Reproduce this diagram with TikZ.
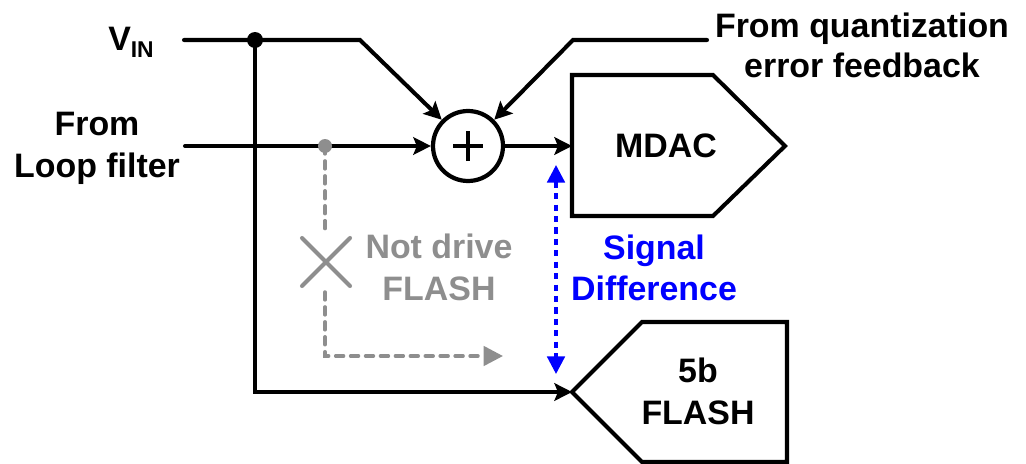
\documentclass[tikz,border=0pt]{standalone}
\usepackage{fontspec}
\setmainfont{Liberation Sans}
\usetikzlibrary{arrows.meta}
\definecolor{dimgray}{HTML}{8E8E8E}
\definecolor{sigblue}{HTML}{0000FF}
\begin{document}
\begin{tikzpicture}[x=0.02cm,y=-0.02cm,
  wire/.style={line width=2.3pt, line cap=round, line join=miter},
  arr/.style={-{Stealth[length=10pt,width=10pt,inset=2pt]}},
  lbl/.style={font=\fontsize{19.3}{23.8}\selectfont\bfseries, align=center, inner sep=0pt},
  graywire/.style={line width=2pt, dimgray, line cap=round, dash pattern=on 4.5pt off 4pt},
  bluewire/.style={line width=1.8pt, sigblue, dash pattern=on 3.5pt off 3pt}]
\useasboundingbox (0,0) rectangle (1026,463);

% labels
\node[lbl, anchor=base] (vin) at (131,50) {V\raisebox{-0.22em}{\fontsize{13}{13}\selectfont IN}};
\node[lbl, anchor=base] (lf1) at (97,135) {From};
\node[lbl, anchor=base] (lf2) at (97,177) {Loop filter};
\node[lbl, anchor=base] (qe1) at (862,37) {From quantization};
\node[lbl, anchor=base] (qe2) at (862,77) {error feedback};

% summer
\node[circle, draw, line width=2.4pt, minimum size=1.4cm, inner sep=0pt] (sum) at (468,146) {};
\draw[line width=2.8pt] ([xshift=-0.3cm]sum.center) -- ([xshift=0.3cm]sum.center)
  ([yshift=-0.3cm]sum.center) -- ([yshift=0.3cm]sum.center);

% MDAC
\draw[wire] (572,75) -- (713,75) -- (785,146) -- (713,216) -- (572,216) -- cycle;
\node[lbl] (mdac) at (666,146) {MDAC};
\coordinate (mdacin) at (572,146);

% FLASH
\draw[wire] (787,470) -- (787,322) -- (642,322) -- (572,392) -- (642,462) -- (787,462);
\node[lbl, anchor=base] (fl1) at (698,382) {5b};
\node[lbl, anchor=base] (fl2) at (698,424) {FLASH};
\coordinate (flashin) at (572,392);

% wires
\coordinate (vinstart) at (184,40);
\node[circle, fill, inner sep=0pt, minimum size=0.32cm] (dot) at (255,40) {};
\coordinate (vinbend) at (360,40);
\coordinate (qestart) at (707,40);
\coordinate (qebend) at (573,40);
\coordinate (lfstart) at (185,146);
\coordinate (corner) at (255,392);

\draw[wire, arr] (vinstart) -- (vinbend) -- (sum.135);
\draw[wire, arr] (qestart) -- (qebend) -- (sum.45);
\draw[wire, arr] (lfstart) -- (sum.west);
\draw[wire, arr] (sum.east) -- (mdacin);
\draw[wire, arr] (dot.center) -- (corner) -- (flashin);

% gray path
\node[circle, fill=dimgray, inner sep=0pt, minimum size=0.28cm] (gdot) at (325,146) {};
\coordinate (gx) at (326,262);
\coordinate (gcorner) at (325,356);
\coordinate (gend) at (503,356);
\draw[graywire] (gdot.center) -- (325,233);
\draw[graywire, -{Triangle[length=11pt,width=11pt]}] (325,292) -- (gcorner) -- (gend);
\draw[line width=2.3pt, dimgray, line cap=round] (302,238) -- (350,286) (350,238) -- (302,286);
\node[lbl, text=dimgray, anchor=base] (nd1) at (439,258) {Not drive};
\node[lbl, text=dimgray, anchor=base] (nd2) at (439,300) {FLASH};

% signal difference
\coordinate (sdtop) at (556,165);
\coordinate (sdbot) at (556,374);
\draw[bluewire, {Triangle[length=10pt,width=10pt]}-{Triangle[length=10pt,width=10pt]}] (sdtop) -- (sdbot);
\node[lbl, text=sigblue, anchor=base] (sd1) at (654,259) {Signal};
\node[lbl, text=sigblue, anchor=base] (sd2) at (654,300) {Difference};
\end{tikzpicture}
\end{document}
